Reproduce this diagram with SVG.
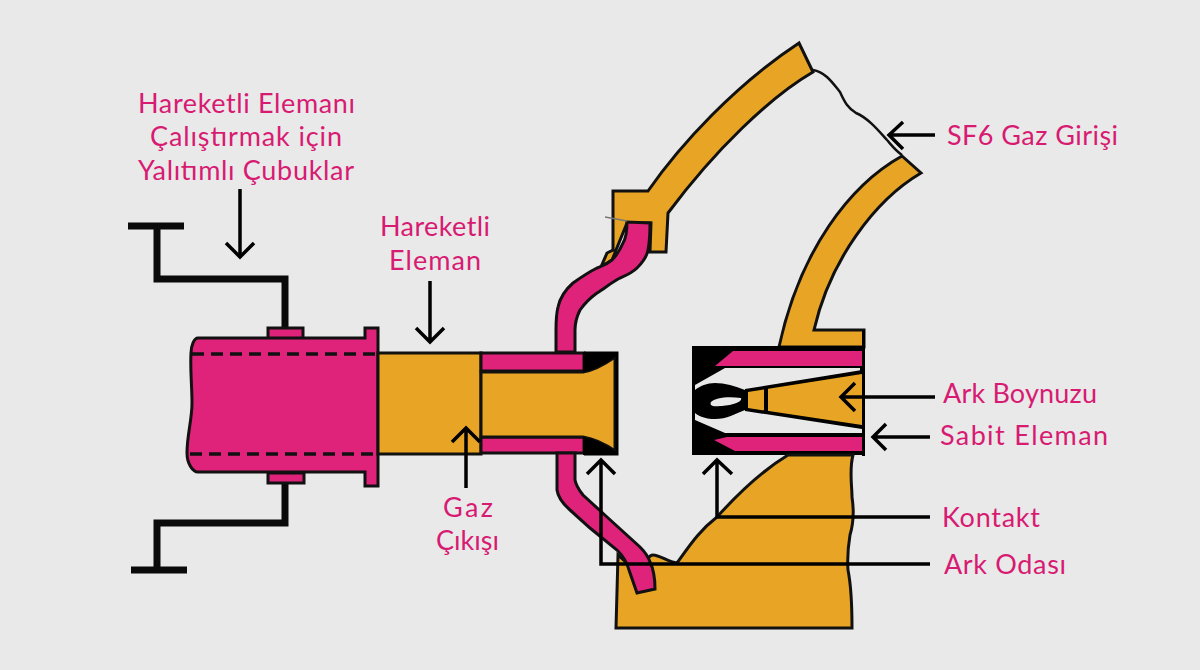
<svg xmlns="http://www.w3.org/2000/svg" width="1200" height="670" viewBox="0 0 1200 670">
<style>
.o{fill:#e8a525;stroke:#111;stroke-width:3;stroke-linejoin:miter}
.p{fill:#e0237a;stroke:#111;stroke-width:3;stroke-linejoin:miter}
.k{fill:#000;stroke:none}
.g{fill:#e9e9e9;stroke:none}
.w{fill:none;stroke:#0a0a0a;stroke-width:7;stroke-linejoin:miter}
.a{fill:none;stroke:#000;stroke-width:3.5;stroke-linejoin:miter}
.d{fill:none;stroke:#111;stroke-width:3.5;stroke-dasharray:12 7}
text{font-family:"Lato","Open Sans",sans-serif;font-size:27px;fill:#d81b72}
</style>
<rect width="1200" height="670" fill="#e9e9e9"/>
<g id="rods">
<path class="w" d="M128 226H184M157 226V279H285V328"/>
<path class="w" d="M131 570H187M157 570V523H285V483"/>
</g>
<g id="cylinder">
<rect class="p" x="268" y="328" width="35" height="11"/>
<rect class="p" x="268" y="473" width="36" height="10"/>
<path class="p" d="M198 338H365V328H378V486H365V472H198C193 472 187 464 187 453C187 435 192 420 192 403C192 385 190 370 191 353C191 346 194 338 198 338Z"/>
<path class="d" d="M192 354H376M190 454H376"/>
</g>
<g id="moving-element">
<path class="o" d="M378 353H481V454H378Z"/>
<path class="p" d="M481 353H584V371H481Z"/>
<path class="p" d="M481 437H584V453H481Z"/>
<path class="o" d="M481 372H583C595 370 605 364 615 357V451C605 444 595 439 583 437H481Z"/>
<path class="k" d="M583 352H617V357H615C605 364 595 370 583 372Z"/>
<path class="k" d="M583 455H617V451H615C605 444 595 439 583 437Z"/>
<path class="a" style="stroke-width:3" d="M584 353H617V454H584"/>
</g>
<g id="upper-tube">
<path class="o" d="M799 43L813 72C770 97 715 150 668 213L666 252H650L651 223H627L612 260L601 267L607 253L613 250V191H648C680 145 735 85 799 43Z"/>
<path class="p" d="M627 222C627 232 626 238 623 243C620 250 616 256 612 260C606 265 602 266 597 268C587 273 580 278 573 283C565 290 560 298 558 307C556 315 556 322 556 330V352H575V330C575 322 577 316 580 310C585 303 590 298 597 293C605 288 612 282 620 278C627 275 632 273 637 268C643 262 647 256 648 250C650 240 650 232 650 223Z"/>
<path d="M605 217L627 221" fill="none" stroke="#777" stroke-width="1.5"/>
<path fill="none" stroke="#111" stroke-width="2.5" d="M813 70C825 72 832 82 840 92C845 103 848 108 856 113C868 118 878 130 887 140C893 147 896 151 902 155"/>
</g>
<g id="fixed-element">
<path class="o" d="M902 156L921 173C875 200 830 260 814 330H864V347H779C800 250 850 185 902 156Z"/>
<rect class="k" x="692" y="346" width="172" height="109"/>
<path class="g" d="M695 385L725 368H860V372L745 390C735 386 725 383 715 383C707 383 700 386 695 390Z"/>
<path class="g" d="M695 413C700 417 707 419 715 419C727 419 735 414 745 410L862 427V433H725L695 420Z"/>
<path class="p" style="stroke:none" d="M733 351H862V366H715Z"/>
<path class="p" style="stroke:none" d="M727 437H862V451H735L714 440Z"/>
<path class="k" d="M745 389L862 370V374L745 393ZM745 407L862 425V429L745 411Z"/>
<path fill="#e8a525" d="M748 392L862 374V425L748 408Z"/>
<path class="k" d="M764 386H768V414H764Z"/>
<path class="g" d="M711 402C715 398 727 396 741 398C743 402 730 406 720 406C714 407 709 406 711 402Z"/>
<path class="k" d="M862 330H865V456H862Z"/>
</g>
<g id="lower-body">
<path class="o" d="M616 628L618 555L640 575C645 560 650 555 653 555C660 555 668 562 677 563C690 545 700 530 717 517C735 497 760 472 788 455H853C849 470 852 485 852 497C854 510 853 525 850 535C848 547 847 555 848 570C851 585 852 600 852 628Z"/>
<path class="p" d="M557 453V490C558 497 562 503 570 510L590 528L617 550C622 555 627 562 629 570L637 593L655 589C655 578 654 570 650 562C648 556 645 552 640 547L607 517L583 495C579 490 576 485 575 480V453Z"/>
</g>
<g id="connectors">
<path class="a" d="M240 189V256M226 243L240 257L254 243"/>
<path class="a" d="M430 281V341M416 328L430 342L444 328"/>
<path class="a" d="M466 488V430M452 442L466 428L480 442"/>
<path class="a" d="M935 135H890M903 122L889 135L903 149"/>
<path class="a" d="M935 397H842M855 383L841 397L855 411"/>
<path class="a" d="M930 437H874M886 424L873 437L886 450"/>
<path class="a" d="M930 517H717V462M703 474L717 460L732 474"/>
<path class="a" d="M930 564H601V462M587 474L601 460L615 474"/>
</g>
<g id="labels">
<text x="138" y="113" textLength="217">Hareketli Elemanı</text>
<text x="150" y="146" textLength="192">Çalıştırmak için</text>
<text x="138" y="180" textLength="216">Yalıtımlı Çubuklar</text>
<text x="380" y="236" textLength="110">Hareketli</text>
<text x="389" y="270" textLength="92">Eleman</text>
<text x="443" y="517" textLength="50">Gaz</text>
<text x="436" y="550" textLength="63">Çıkışı</text>
<text x="947" y="145" textLength="171">SF6 Gaz Girişi</text>
<text x="943" y="403" textLength="154">Ark Boynuzu</text>
<text x="940" y="445" textLength="168">Sabit Eleman</text>
<text x="942" y="527" textLength="98">Kontakt</text>
<text x="944" y="574" textLength="122">Ark Odası</text>
</g>
</svg>
